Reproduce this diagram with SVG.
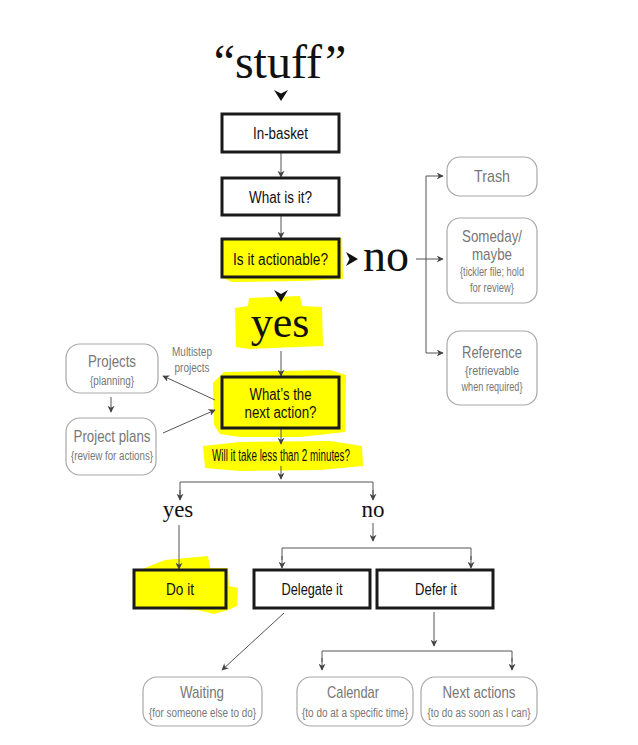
<svg xmlns="http://www.w3.org/2000/svg" width="638" height="745" viewBox="0 0 638 745">
<defs>
<marker id="ah" viewBox="0 0 10 10" refX="9" refY="5" markerWidth="7" markerHeight="7" markerUnits="userSpaceOnUse" orient="auto">
<path d="M0,0 L10,5 L0,10 L3,5 Z" fill="#444"/>
</marker>
</defs>
<style>
.box{fill:#fff;stroke:#1a1a1a;stroke-width:3}
.hbox{fill:#ffff00;stroke:#1a1a1a;stroke-width:3}
.rbox{fill:#fff;stroke:#a8a8a8;stroke-width:1.2}
.hl{fill:#ffff00}
.t{font-family:"Liberation Sans",Arial,sans-serif;font-size:16px;fill:#111;text-anchor:middle}
.g{font-family:"Liberation Sans",Arial,sans-serif;font-size:17px;fill:#777;text-anchor:middle}
.gs{font-family:"Liberation Sans",Arial,sans-serif;font-size:12px;fill:#777;text-anchor:middle}
.s{font-family:"Liberation Serif","Times New Roman",serif;fill:#111;text-anchor:middle}
.c{fill:none;stroke:#555;stroke-width:1}
.ca{fill:none;stroke:#555;stroke-width:1;marker-end:url(#ah)}
.chev{fill:#111}
</style>
<rect width="638" height="745" fill="#fff"/>

<!-- highlights -->
<g id="highlights">
<path class="hl" d="M224,240 L342,238 L343,279 L300,281 L232,282 L223,278 Z"/>
<path class="hl" d="M249,298 L300,296 L302,306 L322,307 L323,346 L250,349 L236,347 L235,308 L248,306 Z"/>
<path class="hl" d="M213,383 L224,372 L330,370 L346,375 L345,432 L300,437 L240,437 L220,434 L214,425 Z"/>
<path class="hl" d="M203,446 L240,442 L330,441 L362,446 L363,466 L320,470 L240,471 L205,468 Z"/>
<path class="hl" d="M145,568 L165,560 L208,556 L210,568 L228,568 L229,586 L238,588 L237,606 L228,610 L214,614 L198,610 L135,606 L134,572 Z"/>
</g>

<!-- connectors -->
<g id="connectors">
<path class="chev" d="M274,90 L281,101 L288,90 L281,93.5 Z"/>
<line class="ca" x1="281" y1="152" x2="281" y2="177"/>
<line class="ca" x1="281" y1="215" x2="281" y2="238"/>
<path class="chev" d="M346,252 L358,259 L346,266 L349.5,259 Z"/>
<path class="chev" d="M274,290 L281,302 L288,290 L281,294 Z"/>
<line class="c" x1="416" y1="259" x2="426" y2="259"/>
<line class="c" x1="426" y1="176" x2="426" y2="353"/>
<line class="ca" x1="426" y1="176" x2="443" y2="176"/>
<line class="ca" x1="426" y1="259" x2="443" y2="259"/>
<line class="ca" x1="426" y1="353" x2="443" y2="353"/>
<line class="ca" x1="281" y1="351" x2="281" y2="376"/>
<line class="ca" x1="111" y1="397" x2="111" y2="412"/>
<line class="ca" x1="215" y1="400" x2="163" y2="376"/>
<line class="ca" x1="163" y1="433" x2="215" y2="410"/>
<line class="ca" x1="281" y1="428" x2="281" y2="444"/>
<line class="ca" x1="281" y1="466" x2="281" y2="479"/>
<path class="c" d="M180,499 L180,482 L373,482 L373,499"/>
<line class="ca" x1="180" y1="490" x2="180" y2="500"/>
<line class="ca" x1="373" y1="490" x2="373" y2="500"/>
<line class="ca" x1="179" y1="525" x2="179" y2="569"/>
<line class="ca" x1="373" y1="523" x2="373" y2="541"/>
<path class="c" d="M282,560 L282,548 L471,548 L471,560"/>
<line class="ca" x1="282" y1="556" x2="282" y2="568"/>
<line class="ca" x1="471" y1="556" x2="471" y2="568"/>
<line class="ca" x1="284" y1="613" x2="222" y2="670"/>
<line class="ca" x1="434" y1="612" x2="434" y2="646"/>
<path class="c" d="M322,662 L322,651 L512,651 L512,662"/>
<line class="ca" x1="322" y1="658" x2="322" y2="670"/>
<line class="ca" x1="512" y1="658" x2="512" y2="670"/>
</g>

<g id="stuff"><text class="s" x="280" y="78" font-size="48">“stuff<tspan dx="3">”</tspan></text></g>

<g id="inbasket"><rect class="box" x="222" y="114" width="117" height="38"/><text class="t" x="280.5" y="138.5" textLength="55" lengthAdjust="spacingAndGlyphs">In-basket</text></g>
<g id="whatisit"><rect class="box" x="222" y="178" width="117" height="37"/><text class="t" x="280.5" y="202.5" textLength="63" lengthAdjust="spacingAndGlyphs">What is it?</text></g>
<g id="actionable"><rect class="hbox" x="222" y="239" width="117" height="38"/><text class="t" x="280.5" y="264.5" textLength="95" lengthAdjust="spacingAndGlyphs">Is it actionable?</text></g>
<g id="no-top"><text class="s" x="386" y="271" font-size="46">no</text></g>
<g id="yes-top"><text class="s" x="280" y="337" font-size="44">yes</text></g>

<g id="trash"><rect class="rbox" x="447" y="157" width="90" height="39" rx="13"/><text class="g" x="492" y="182" textLength="36" lengthAdjust="spacingAndGlyphs">Trash</text></g>
<g id="someday"><rect class="rbox" x="447" y="218" width="90" height="85" rx="13"/>
<text class="g" x="492" y="242" textLength="60" lengthAdjust="spacingAndGlyphs">Someday/</text><text class="g" x="492" y="260" textLength="40" lengthAdjust="spacingAndGlyphs">maybe</text>
<text class="gs" x="492" y="276" textLength="64" lengthAdjust="spacingAndGlyphs">{tickler file; hold</text><text class="gs" x="492" y="292" textLength="44" lengthAdjust="spacingAndGlyphs">for review}</text></g>
<g id="reference"><rect class="rbox" x="447" y="331" width="90" height="74" rx="13"/>
<text class="g" x="492" y="358" textLength="60" lengthAdjust="spacingAndGlyphs">Reference</text>
<text class="gs" x="492" y="375" textLength="54" lengthAdjust="spacingAndGlyphs">{retrievable</text><text class="gs" x="492" y="391" textLength="61" lengthAdjust="spacingAndGlyphs">when required}</text></g>

<g id="projects"><rect class="rbox" x="66" y="344" width="92" height="49" rx="14"/>
<text class="g" x="112" y="367" textLength="48" lengthAdjust="spacingAndGlyphs">Projects</text><text class="gs" x="112" y="385" textLength="44" lengthAdjust="spacingAndGlyphs">{planning}</text></g>
<g id="projectplans"><rect class="rbox" x="66" y="418" width="90" height="57" rx="14"/>
<text class="g" x="112" y="442" textLength="77" lengthAdjust="spacingAndGlyphs">Project plans</text><text class="gs" x="112" y="460" textLength="82" lengthAdjust="spacingAndGlyphs">{review for actions}</text></g>
<g id="multistep"><text class="gs" x="192" y="356" textLength="40" lengthAdjust="spacingAndGlyphs">Multistep</text><text class="gs" x="192" y="372" textLength="35" lengthAdjust="spacingAndGlyphs">projects</text></g>

<g id="nextaction"><rect class="hbox" x="222" y="377" width="117" height="51"/>
<text class="t" x="280.5" y="400" textLength="62" lengthAdjust="spacingAndGlyphs">What’s the</text><text class="t" x="280.5" y="418" textLength="72" lengthAdjust="spacingAndGlyphs">next action?</text></g>
<g id="twominutes"><text class="t" x="281" y="461" font-size="13" textLength="138" lengthAdjust="spacingAndGlyphs">Will it take less than 2 minutes?</text></g>

<g id="yes-bottom"><text class="s" x="178" y="517" font-size="23">yes</text></g>
<g id="no-bottom"><text class="s" x="373" y="517" font-size="23">no</text></g>

<g id="doit"><rect class="hbox" x="134" y="570" width="92" height="38"/><text class="t" x="180" y="595" textLength="28" lengthAdjust="spacingAndGlyphs">Do it</text></g>
<g id="delegate"><rect class="box" x="254" y="570" width="116" height="38"/><text class="t" x="312" y="595" textLength="61" lengthAdjust="spacingAndGlyphs">Delegate it</text></g>
<g id="defer"><rect class="box" x="377" y="570" width="116" height="38"/><text class="t" x="436" y="595" textLength="42" lengthAdjust="spacingAndGlyphs">Defer it</text></g>

<g id="waiting"><rect class="rbox" x="143" y="677" width="119" height="49" rx="14"/>
<text class="g" x="202" y="698" textLength="44" lengthAdjust="spacingAndGlyphs">Waiting</text><text class="gs" x="202.5" y="717" textLength="107" lengthAdjust="spacingAndGlyphs">{for someone else to do}</text></g>
<g id="calendar"><rect class="rbox" x="297" y="677" width="116" height="49" rx="14"/>
<text class="g" x="353" y="698" textLength="52" lengthAdjust="spacingAndGlyphs">Calendar</text><text class="gs" x="355" y="717" textLength="106" lengthAdjust="spacingAndGlyphs">{to do at a specific time}</text></g>
<g id="nextactions"><rect class="rbox" x="421" y="677" width="116" height="49" rx="14"/>
<text class="g" x="479" y="698" textLength="73" lengthAdjust="spacingAndGlyphs">Next actions</text><text class="gs" x="479" y="717" textLength="103" lengthAdjust="spacingAndGlyphs">{to do as soon as I can}</text></g>
</svg>
